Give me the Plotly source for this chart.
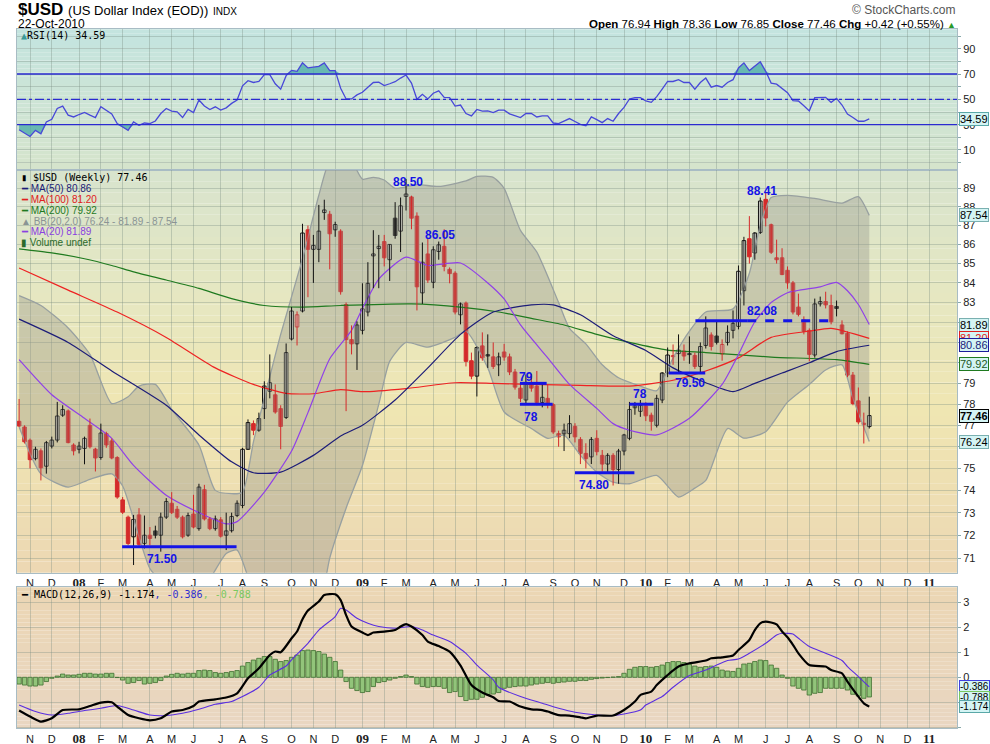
import numpy as np
import pandas as pd
import plotly.graph_objects as go

W, H = 990, 744

# weekly bars, stamped with the Monday of each week (last bar = week ending 22-Oct-2010)
first_week = "2007-10-22"

opens = [77.19, 76.92, 76.30, 75.45, 75.81, 75.10, 76.03, 76.31, 77.48, 77.68,
         76.08, 75.88, 75.92, 77.00, 75.89, 75.50, 76.61, 76.27, 75.50, 73.57,
         72.80, 71.93, 72.90, 71.64, 72.00, 72.19, 72.00, 72.80, 73.42, 73.15,
         72.80, 72.00, 72.94, 72.29, 74.03, 72.72, 72.29, 72.68, 72.00, 72.20,
         72.87, 73.32, 75.88, 77.08, 76.77, 77.79, 78.62, 78.45, 77.79, 77.37,
         81.17, 81.77, 82.57, 86.77, 85.74, 85.74, 87.69, 87.60, 86.77, 86.70,
         82.90, 81.14, 80.93, 81.60, 82.52, 85.40, 85.78, 86.15, 85.20, 87.39,
         86.70, 88.56, 88.53, 87.50, 83.49, 85.50, 84.03, 85.63, 85.90, 84.70,
         84.50, 82.38, 82.97, 80.10, 79.35, 80.83, 80.40, 80.29, 79.90, 80.53,
         80.29, 79.55, 78.77, 78.20, 79.03, 78.87, 78.08, 78.28, 77.98, 76.61,
         76.60, 76.61, 76.95, 76.34, 75.69, 75.53, 76.39, 75.60, 75.20, 75.60,
         74.95, 75.80, 76.39, 77.83, 77.66, 77.92, 77.48, 77.00, 78.20, 79.50,
         80.30, 80.45, 80.57, 80.45, 80.36, 79.82, 80.85, 81.37, 81.32, 80.43,
         81.00, 81.60, 81.80, 83.60, 86.30, 85.55, 86.63, 88.40, 87.04, 85.30,
         85.30, 84.65, 84.00, 82.77, 82.12, 81.60, 80.38, 82.93, 83.05, 82.85,
         82.80, 81.87, 81.45, 79.40, 78.16, 77.10, 76.94]
highs = [78.25, 77.00, 76.38, 76.00, 75.92, 76.27, 76.47, 78.11, 77.95, 77.75,
         76.16, 76.23, 76.47, 77.32, 75.95, 77.08, 76.70, 76.38, 75.56, 73.70,
         72.87, 72.90, 73.20, 72.87, 72.36, 72.42, 73.00, 73.65, 73.92, 73.30,
         72.87, 73.00, 73.80, 74.30, 74.25, 72.80, 72.87, 72.80, 73.00, 73.00,
         73.55, 75.95, 77.28, 77.23, 77.60, 79.10, 80.41, 78.95, 77.95, 80.95,
         82.77, 82.55, 87.09, 87.00, 86.50, 88.10, 88.38, 87.78, 87.20, 86.80,
         83.00, 81.85, 82.05, 83.98, 85.07, 86.75, 86.50, 86.50, 86.00, 88.25,
         88.50, 89.50, 88.60, 87.70, 86.10, 86.30, 85.90, 86.15, 86.80, 84.80,
         84.60, 83.00, 83.05, 80.50, 80.80, 81.50, 81.40, 81.00, 80.50, 80.93,
         80.45, 79.70, 78.95, 79.43, 79.45, 79.60, 78.95, 78.95, 78.05, 76.75,
         77.08, 77.48, 77.10, 76.45, 76.16, 76.45, 76.77, 75.85, 75.70, 75.70,
         75.90, 76.60, 78.11, 78.11, 78.20, 78.10, 77.60, 78.45, 79.55, 80.75,
         80.90, 81.40, 80.90, 81.30, 80.50, 81.00, 82.30, 81.50, 82.05, 81.15,
         81.85, 82.60, 84.90, 86.40, 87.50, 86.65, 88.50, 88.80, 87.10, 86.25,
         85.80, 84.85, 84.10, 83.45, 82.30, 81.70, 83.20, 83.30, 83.55, 83.40,
         83.10, 82.10, 81.55, 79.55, 78.80, 77.60, 78.36]
lows = [76.92, 76.15, 75.00, 75.37, 74.45, 74.76, 75.92, 76.20, 77.40, 76.16,
        75.60, 75.69, 75.19, 75.92, 74.86, 75.40, 75.95, 75.42, 73.62, 72.94,
        71.56, 70.70, 71.50, 71.42, 71.56, 71.86, 71.28, 72.72, 72.94, 72.72,
        71.86, 71.93, 72.30, 72.20, 72.65, 72.22, 72.20, 71.90, 71.35, 72.12,
        72.80, 73.20, 75.85, 76.54, 76.70, 77.30, 78.28, 77.55, 75.88, 77.30,
        81.10, 80.85, 82.50, 83.27, 84.00, 85.07, 87.30, 84.70, 86.40, 83.40,
        77.67, 80.41, 79.65, 81.40, 82.30, 83.73, 83.73, 84.85, 84.10, 86.30,
        85.60, 87.80, 86.80, 82.60, 82.93, 84.00, 83.73, 85.20, 84.60, 83.98,
        82.40, 81.90, 79.82, 79.20, 78.37, 80.10, 79.75, 79.70, 79.35, 80.10,
        79.40, 78.70, 78.10, 78.05, 78.60, 77.95, 77.85, 77.80, 76.60, 76.00,
        75.80, 76.40, 76.20, 75.20, 75.00, 75.20, 75.60, 74.86, 74.75, 74.22,
        74.30, 75.60, 76.30, 77.50, 77.40, 77.20, 76.75, 76.90, 78.05, 79.30,
        79.90, 79.55, 80.10, 79.95, 79.70, 79.50, 80.70, 80.60, 80.90, 80.10,
        80.85, 81.20, 81.65, 82.85, 85.00, 85.20, 86.55, 86.95, 85.50, 85.00,
        84.40, 83.70, 82.40, 82.30, 81.40, 80.07, 80.25, 82.80, 82.70, 81.90,
        82.30, 81.40, 79.30, 77.95, 77.05, 76.15, 76.85]
closes = [76.97, 76.23, 75.40, 75.88, 75.03, 76.19, 76.31, 77.44, 77.75, 76.19,
          75.81, 76.03, 76.39, 76.00, 75.48, 76.64, 76.08, 75.48, 73.70, 73.02,
          71.64, 72.70, 71.60, 72.00, 71.86, 72.00, 72.80, 73.50, 73.00, 72.80,
          71.93, 72.87, 72.36, 74.15, 72.72, 72.29, 72.72, 71.96, 72.19, 72.83,
          73.42, 75.88, 77.13, 76.77, 77.32, 78.87, 79.03, 77.63, 76.95, 80.50,
          82.57, 82.38, 86.60, 85.74, 85.95, 86.70, 87.83, 86.56, 87.05, 83.55,
          81.14, 80.93, 81.87, 82.68, 83.98, 85.50, 85.90, 85.30, 86.00, 86.47,
          88.05, 88.69, 87.39, 83.80, 85.07, 84.15, 85.72, 85.98, 84.85, 84.48,
          82.52, 82.93, 80.07, 79.35, 80.75, 80.24, 80.33, 79.82, 80.29, 80.28,
          79.55, 78.82, 78.28, 78.95, 78.77, 78.08, 78.33, 77.98, 76.69, 76.46,
          76.77, 77.08, 76.46, 75.69, 75.45, 76.34, 75.77, 75.20, 75.60, 74.95,
          75.80, 76.55, 77.75, 77.92, 77.95, 77.45, 77.19, 78.28, 79.50, 80.38,
          80.35, 80.62, 80.33, 80.40, 79.82, 80.80, 81.72, 80.80, 81.00, 80.90,
          81.50, 81.95, 84.60, 86.20, 85.35, 86.60, 88.31, 87.40, 85.59, 85.20,
          84.43, 84.00, 82.52, 82.40, 81.55, 80.41, 82.93, 83.05, 82.88, 82.03,
          82.70, 81.43, 79.40, 78.03, 77.16, 77.04, 77.46]

rsi14 = [26.0, 23.5, 20.7, 25.5, 22.8, 32.1, 34.3, 42.8, 44.7, 37.5,
         36.1, 38.0, 39.6, 37.5, 35.6, 44.1, 41.5, 38.5, 30.8, 28.0,
         25.5, 32.1, 29.5, 31.3, 30.8, 32.9, 38.8, 42.8, 40.7, 40.1,
         35.6, 42.0, 39.6, 49.5, 44.7, 42.0, 44.1, 41.5, 43.3, 46.8,
         49.5, 60.7, 64.7, 63.3, 64.1, 69.5, 69.5, 62.3, 58.0, 68.7,
         72.9, 72.1, 78.8, 74.8, 75.3, 76.1, 78.8, 72.7, 72.7, 58.8,
         50.3, 50.3, 53.5, 55.6, 59.6, 63.3, 63.6, 60.9, 62.3, 63.9,
         66.8, 69.2, 62.8, 50.0, 54.0, 50.3, 54.8, 56.7, 51.6, 51.3,
         44.7, 45.5, 38.8, 36.9, 42.0, 40.7, 40.9, 39.6, 41.5, 41.5,
         38.5, 36.9, 35.6, 38.8, 38.8, 36.1, 36.9, 36.9, 31.3, 30.8,
         33.0, 34.8, 32.5, 30.3, 29.2, 36.1, 34.0, 31.6, 34.8, 32.7,
         38.8, 43.6, 50.3, 51.3, 51.3, 48.7, 47.6, 52.1, 58.0, 64.1,
         64.1, 65.5, 63.3, 63.3, 58.0, 63.3, 66.8, 59.6, 60.9, 59.6,
         63.3, 65.5, 74.8, 78.8, 72.7, 76.1, 79.6, 72.1, 62.8, 62.0,
         58.3, 55.3, 48.9, 48.7, 44.9, 40.9, 51.3, 51.6, 51.6, 47.6,
         50.8, 45.5, 38.3, 35.6, 32.7, 32.7, 34.59]

macd_hist = [-0.27, -0.31, -0.35, -0.35, -0.31, -0.17, -0.04, 0.05, 0.13, 0.09,
             0.09, 0.12, 0.16, 0.16, 0.13, 0.13, 0.16, 0.16, -0.01, -0.11,
             -0.24, -0.21, -0.13, -0.27, -0.24, -0.21, -0.13, 0.05, 0.12, 0.16,
             0.13, 0.16, 0.16, 0.27, 0.29, 0.27, 0.19, 0.16, 0.19, 0.23,
             0.27, 0.45, 0.59, 0.69, 0.76, 0.83, 0.83, 0.72, 0.63, 0.67,
             0.80, 0.89, 1.07, 1.09, 1.07, 1.03, 0.93, 0.80, 0.63, 0.29,
             -0.17, -0.44, -0.53, -0.61, -0.57, -0.37, -0.21, -0.17, -0.11, -0.04,
             0.03, 0.09, 0.03, -0.27, -0.37, -0.40, -0.37, -0.37, -0.44, -0.61,
             -0.57, -0.77, -0.93, -0.88, -0.88, -0.80, -0.71, -0.67, -0.61, -0.44,
             -0.40, -0.37, -0.35, -0.35, -0.31, -0.27, -0.24, -0.21, -0.24, -0.21,
             -0.19, -0.16, -0.16, -0.13, -0.13, -0.08, -0.05, -0.03, -0.01, 0.01,
             0.03, 0.16, 0.32, 0.40, 0.43, 0.43, 0.40, 0.43, 0.49, 0.59,
             0.63, 0.63, 0.59, 0.52, 0.45, 0.40, 0.43, 0.45, 0.40, 0.29,
             0.25, 0.23, 0.36, 0.53, 0.56, 0.63, 0.69, 0.67, 0.49, 0.36,
             0.09, -0.04, -0.35, -0.44, -0.51, -0.71, -0.64, -0.61, -0.44, -0.44,
             -0.44, -0.44, -0.51, -0.68, -0.75, -0.84, -0.788]

# overlay lines at selected bars (1 = first bar)
ma20_wk = [1, 7, 13, 18, 22, 28, 34, 39, 41, 46, 51, 54, 58, 62, 64, 67, 72, 76, 82, 87,
           90, 93, 98, 102, 107, 110, 113, 118, 124, 130, 133, 136, 139, 142, 148, 151,
           153, 155, 157]
ma20 = [80.15, 78.45, 77.33, 76.39, 75.14, 73.78, 73.0, 72.5, 72.6, 73.92, 75.8, 77.6,
        80.2, 81.6, 82.7, 84.2, 85.33, 84.9, 85.03, 84.0, 83.18, 81.87, 80.24, 78.95,
        77.8, 77.08, 76.77, 76.55, 77.33, 78.95, 80.41, 82.03, 83.0, 83.5, 83.8, 84.03,
        83.6, 82.9, 81.89]
ma50_wk = [1, 10, 18, 28, 34, 40, 44, 49, 55, 60, 64, 70, 76, 82, 88, 95, 99, 104, 110,
           116, 121, 127, 132, 136, 141, 146, 151, 157]
ma50 = [82.16, 81.0, 79.6, 77.95, 76.55, 75.3, 74.8, 74.83, 75.6, 76.5, 77.0, 78.2, 79.75,
        81.4, 82.52, 82.88, 82.88, 82.38, 81.33, 80.6, 79.75, 79.03, 78.6, 79.0, 79.5,
        80.0, 80.55, 80.86]
ma100_wk = [1, 10, 19, 28, 37, 44, 50, 55, 60, 64, 72, 81, 88, 95, 104, 113, 121, 127,
            133, 139, 146, 150, 157]
ma100 = [84.77, 83.63, 82.52, 81.25, 79.75, 78.95, 78.52, 78.5, 78.7, 78.6, 78.75, 79.03,
         79.0, 78.95, 78.9, 78.87, 79.15, 79.6, 80.24, 81.25, 81.56, 81.7, 81.2]
ma200_wk = [1, 7, 13, 18, 22, 28, 34, 40, 46, 53, 60, 73, 82, 89, 95, 101, 107, 113, 120,
            127, 139, 151, 157]
ma200 = [85.77, 85.56, 85.25, 84.9, 84.57, 84.15, 83.72, 83.2, 82.85, 82.77, 82.85, 82.93,
         82.77, 82.52, 82.2, 81.87, 81.4, 81.0, 80.62, 80.5, 80.28, 80.15, 79.92]
bb_up_wk = [1, 5, 10, 14, 18, 21, 23, 26, 29, 34, 37, 40, 42, 44, 46, 49, 53, 56, 58, 61,
            64, 66, 68, 70, 74, 78, 83, 85, 88, 90, 93, 96, 100, 102, 105, 108, 111, 115,
            118, 121, 124, 127, 132, 135, 137, 139, 142, 147, 152, 155, 157]
bb_up = [83.35, 82.85, 81.72, 80.41, 78.03, 78.36, 78.87, 78.95, 77.75, 76.08, 74.0,
         73.85, 73.92, 76.23, 78.28, 81.4, 85.25, 88.62, 90.5, 91.0, 89.5, 89.6, 89.45,
         89.0, 89.2, 89.1, 89.4, 89.65, 89.6, 89.0, 86.74, 85.6, 83.0, 81.7, 80.93, 79.9,
         79.27, 78.87, 78.65, 80.24, 81.56, 82.52, 82.68, 84.5, 87.0, 88.5, 88.62, 88.45,
         88.2, 88.55, 87.54]
bb_lo_wk = [1, 5, 10, 14, 18, 20, 22, 25, 28, 31, 35, 39, 41, 43, 46, 50, 54, 57, 58, 61,
            64, 67, 69, 72, 76, 81, 83, 87, 90, 95, 98, 101, 104, 107, 110, 113, 118, 122,
            125, 127, 131, 134, 138, 142, 146, 149, 152, 154, 157]
bb_lo = [76.92, 74.75, 74.15, 74.5, 74.75, 74.2, 72.72, 70.55, 69.8, 69.5, 69.8, 71.2,
         71.35, 70.2, 68.5, 67.5, 67.5, 69.8, 71.0, 73.2, 75.13, 78.0, 80.07, 81.0, 80.77,
         81.25, 81.56, 79.75, 77.63, 76.85, 76.39, 76.54, 75.6, 74.83, 74.37, 74.3, 74.68,
         73.7, 74.1, 74.45, 76.85, 76.4, 76.7, 78.1, 78.95, 79.65, 79.9, 78.28, 76.24]

macd_wk = [1, 3, 5, 7, 9, 12, 14, 16, 18, 19, 21, 23, 25, 27, 29, 31, 33, 34, 37, 39, 41,
           43, 45, 47, 48, 49, 51, 52, 53, 54, 56, 57, 59, 60, 61, 62, 64, 65, 66, 68, 70,
           71, 72, 73, 75, 76, 78, 80, 82, 84, 86, 88, 89, 91, 93, 95, 97, 98, 100, 102,
           104, 105, 107, 110, 112, 114, 115, 117, 118, 120, 122, 124, 127, 128, 130, 132,
           133, 135, 136, 137, 138, 140, 141, 142, 143, 144, 146, 149, 150, 152, 153, 155,
           156, 157]
macd = [-1.33, -1.57, -1.77, -1.64, -1.31, -1.28, -1.15, -1.01, -1.0, -1.17, -1.51, -1.64,
        -1.72, -1.64, -1.37, -1.31, -1.15, -0.97, -0.88, -0.81, -0.64, -0.04, 0.36, 0.89,
        1.03, 1.0, 1.56, 1.83, 2.32, 2.67, 3.03, 3.29, 3.32, 3.09, 2.49, 2.03, 1.79, 1.69,
        1.79, 1.83, 1.89, 2.03, 2.13, 2.03, 1.69, 1.43, 1.25, 1.03, 0.47, -0.31, -0.61,
        -0.80, -0.95, -0.97, -1.17, -1.28, -1.31, -1.37, -1.51, -1.53, -1.6, -1.64, -1.53,
        -1.53, -1.31, -0.97, -0.71, -0.57, -0.31, 0.09, 0.43, 0.56, 0.67, 0.76, 0.80, 0.87,
        1.09, 1.49, 1.89, 2.16, 2.23, 2.12, 1.83, 1.6, 1.3, 0.96, 0.49, 0.43, 0.29, 0.16,
        -0.17, -0.77, -1.04, -1.174]
signal_wk = [1, 4, 7, 10, 13, 16, 19, 22, 25, 28, 31, 34, 37, 40, 42, 45, 47, 50, 51, 54,
             56, 59, 60, 61, 63, 65, 67, 70, 73, 75, 77, 80, 83, 85, 88, 89, 93, 97, 100,
             103, 107, 110, 112, 115, 116, 119, 121, 124, 127, 129, 131, 133, 135, 138, 140,
             141, 143, 144, 146, 149, 152, 153, 155, 157]
signal = [-1.11, -1.37, -1.51, -1.44, -1.33, -1.24, -1.13, -1.31, -1.51, -1.53, -1.44,
          -1.28, -1.08, -0.97, -0.77, -0.40, 0.09, 0.45, 0.7, 1.36, 1.89, 2.43, 2.76, 2.69,
          2.36, 2.16, 2.03, 1.96, 2.03, 1.89, 1.69, 1.43, 0.96, 0.49, -0.1, -0.40, -0.77,
          -1.04, -1.24, -1.4, -1.51, -1.53, -1.47, -1.31, -1.11, -0.77, -0.40, 0.07, 0.29,
          0.49, 0.67, 0.73, 0.96, 1.36, 1.69, 1.76, 1.73, 1.56, 1.23, 0.96, 0.67, 0.43, 0.03,
          -0.386]

# hand-drawn support / resistance lines: (from bar, to bar, level, dashed)
levels = [(19.9, 40.9, 71.50, False), (92.9, 97.8, 79.0, False), (92.9, 98.9, 78.0, False),
          (103.0, 113.9, 74.80, False), (113.0, 117.4, 78.0, False),
          (120.2, 126.9, 79.50, False), (125.1, 134.6, 82.08, False),
          (134.6, 150.8, 82.08, True)]
# chart notes: (text, bar, price)
notes = [("71.50", 27.2, 70.97), ("79", 94.0, 79.32), ("78", 95.0, 77.40),
         ("74.80", 106.4, 74.23), ("78", 115.0, 78.50), ("79.50", 124.1, 79.00),
         ("82.08", 137.3, 82.55), ("88.50", 72.3, 89.36), ("86.05", 78.3, 86.50),
         ("88.41", 137.3, 88.87)]

# price axis labels that sit under the value tags on the right
hidden_price_ticks = [76, 80, 81, 82]

weeks = pd.date_range(first_week, periods=len(closes), freq="W-MON")


def wk(idx):
    # bar numbers (1 = first bar, fractions allowed) -> dates
    return [weeks[0] + pd.Timedelta(days=7 * (float(i) - 1)) for i in idx]


# pixel layout of the three panels
X0, X1 = 17, 957
RSI_T, RSI_B = 29.3, 170
PX_T, PX_B = 170, 572.7
MD_T, MD_B = 587.3, 728.3


def py(v):
    return 1 - v / H


def px(v):
    return v / W


x_range = [weeks[0] - pd.Timedelta(days=2.7), weeks[-1] + pd.Timedelta(days=112.7)]

# month ticks at the first bar of each month
tick_x, tick_txt = [], []
for m in pd.date_range("2007-11-01", "2011-01-01", freq="MS"):
    d = m + pd.Timedelta(days=(7 - m.weekday()) % 7)
    tick_x.append(d)
    if m.month == 1:
        tick_txt.append('<span style="font-family:Liberation Serif;font-size:13px">'
                        '<b>%02d</b></span>' % (m.year % 100))
    else:
        tick_txt.append("JFMAMJJASOND"[m.month - 1])

GRID = "rgba(120,140,130,0.35)"
BORDER = "#a8bcc4"
RED = "#d42a2a"

fig = go.Figure()

# ---- RSI panel
fig.add_trace(go.Scatter(x=weeks, y=[70] * len(weeks), mode="lines", line=dict(width=0),
                         xaxis="x", yaxis="y", hoverinfo="skip", showlegend=False))
fig.add_trace(go.Scatter(x=weeks, y=np.maximum(rsi14, 70), mode="lines", line=dict(width=0),
                         fill="tonexty", fillcolor="rgba(70,170,165,0.75)",
                         xaxis="x", yaxis="y", hoverinfo="skip", showlegend=False))
fig.add_trace(go.Scatter(x=weeks, y=[30] * len(weeks), mode="lines", line=dict(width=0),
                         xaxis="x", yaxis="y", hoverinfo="skip", showlegend=False))
fig.add_trace(go.Scatter(x=weeks, y=np.minimum(rsi14, 30), mode="lines", line=dict(width=0),
                         fill="tonexty", fillcolor="rgba(70,170,165,0.75)",
                         xaxis="x", yaxis="y", hoverinfo="skip", showlegend=False))
fig.add_trace(go.Scatter(x=weeks, y=rsi14, mode="lines", line=dict(color="#4848d8", width=1.3),
                         xaxis="x", yaxis="y", hoverinfo="skip", showlegend=False))

# ---- price panel
fig.add_trace(go.Scatter(x=wk(bb_up_wk), y=bb_up, mode="lines",
                         line=dict(color="#98a0a0", width=1.3, shape="spline", smoothing=0.6),
                         xaxis="x2", yaxis="y2", hoverinfo="skip", showlegend=False))
fig.add_trace(go.Scatter(x=wk(bb_lo_wk), y=bb_lo, mode="lines",
                         line=dict(color="#98a0a0", width=1.3, shape="spline", smoothing=0.6),
                         fill="tonexty", fillcolor="rgba(150,150,140,0.38)",
                         xaxis="x2", yaxis="y2", hoverinfo="skip", showlegend=False))
for wks, vals, col in [(ma200_wk, ma200, "#1f7a1f"), (ma100_wk, ma100, "#ee2222"),
                       (ma50_wk, ma50, "#1c1c78"), (ma20_wk, ma20, "#9040e8")]:
    fig.add_trace(go.Scatter(x=wk(wks), y=vals, mode="lines",
                             line=dict(color=col, width=1.2, shape="spline", smoothing=0.6),
                             xaxis="x2", yaxis="y2", hoverinfo="skip", showlegend=False))

# candles: red when the close is below the previous close, filled when close < open
prev = [opens[0]] + closes[:-1]
n = len(closes)
is_red = [closes[i] < prev[i] for i in range(n)]
for red_group, col in [(False, "#111111"), (True, RED)]:
    wx, wy = [], []
    for i in range(n):
        if is_red[i] == red_group:
            wx += [weeks[i], weeks[i], None]
            wy += [lows[i], highs[i], None]
    fig.add_trace(go.Scatter(x=wx, y=wy, mode="lines", line=dict(color=col, width=1),
                             xaxis="x2", yaxis="y2", hoverinfo="skip", showlegend=False))
body_base = [min(opens[i], closes[i]) for i in range(n)]
body_h = [max(abs(closes[i] - opens[i]), 0.035) for i in range(n)]
edge = [RED if is_red[i] else "#111111" for i in range(n)]
fill = [(RED if is_red[i] else "#111111") if closes[i] < opens[i] else "rgba(250,250,245,0.75)"
        for i in range(n)]
fig.add_trace(go.Bar(x=weeks, y=body_h, base=body_base, width=7 * 86400000 * 0.66,
                     marker=dict(color=fill, line=dict(color=edge, width=1)),
                     xaxis="x2", yaxis="y2", hoverinfo="skip", showlegend=False))

for a, b, lev, dashed in levels:
    fig.add_trace(go.Scatter(x=wk([a, b]), y=[lev, lev], mode="lines",
                             line=dict(color="#1414e6", width=3, dash="dash" if dashed else "solid"),
                             xaxis="x2", yaxis="y2", hoverinfo="skip", showlegend=False))

# ---- MACD panel
fig.add_trace(go.Bar(x=weeks, y=macd_hist, width=7 * 86400000 * 0.8,
                     marker=dict(color="#92c47a", line=dict(color="#3f6e30", width=0.8)),
                     xaxis="x3", yaxis="y3", hoverinfo="skip", showlegend=False))
fig.add_trace(go.Scatter(x=wk(signal_wk), y=signal, mode="lines",
                         line=dict(color="#5a2ee0", width=1.1, shape="spline", smoothing=0.6),
                         xaxis="x3", yaxis="y3", hoverinfo="skip", showlegend=False))
fig.add_trace(go.Scatter(x=wk(macd_wk), y=macd, mode="lines",
                         line=dict(color="#000000", width=2.2, shape="spline", smoothing=0.6),
                         xaxis="x3", yaxis="y3", hoverinfo="skip", showlegend=False))

# ---- background gradients
shapes = []


def gradient(top, bot, stops, steps=36):
    for k in range(steps):
        f0, f1 = k / steps, (k + 1) / steps
        fm = (f0 + f1) / 2
        for (a, ca), (b, cb) in zip(stops[:-1], stops[1:]):
            if a <= fm <= b:
                t = (fm - a) / (b - a)
                c = [int(ca[j] + (cb[j] - ca[j]) * t) for j in range(3)]
                break
        shapes.append(dict(type="rect", xref="paper", yref="paper", layer="below",
                           x0=px(X0), x1=px(X1), y0=py(top + (bot - top) * f1),
                           y1=py(top + (bot - top) * f0), line=dict(width=0),
                           fillcolor="rgb(%d,%d,%d)" % tuple(c)))


gradient(RSI_T, RSI_B, [(0, (196, 228, 224)), (1, (214, 228, 204))])
gradient(PX_T, PX_B, [(0, (216, 228, 206)), (0.35, (232, 232, 192)), (0.6, (240, 230, 178)),
                      (1, (237, 216, 180))])
gradient(MD_T, MD_B, [(0, (236, 214, 180)), (1, (233, 214, 194))])

for lv, dash in [(70, "solid"), (30, "solid"), (50, "dashdot")]:
    shapes.append(dict(type="line", xref="paper", yref="y", x0=px(X0), x1=px(X1), y0=lv, y1=lv,
                       line=dict(color="#2a2ad0", width=1.3, dash=dash)))

xcommon = dict(type="date", range=x_range, tickvals=tick_x, ticktext=tick_txt,
               showgrid=True, gridcolor=GRID, gridwidth=1, showline=True, mirror=True,
               linecolor=BORDER, ticks="", zeroline=False, automargin=False,
               tickfont=dict(family="Liberation Sans", size=11, color="#222"),
               domain=[px(X0), px(X1)])
ycommon = dict(side="right", showgrid=True, gridcolor=GRID, showline=True, mirror=True,
               linecolor=BORDER, ticks="outside", ticklen=3, tickcolor="#8aa",
               zeroline=False, automargin=False,
               tickfont=dict(family="Liberation Sans", size=11, color="#222"))

price_ticks = list(range(71, 90))
fig.update_layout(
    width=W, height=H, margin=dict(l=0, r=0, t=0, b=0, autoexpand=False),
    paper_bgcolor="white", plot_bgcolor="rgba(0,0,0,0)",
    showlegend=False, barmode="overlay", shapes=shapes,
    xaxis=dict(xcommon, anchor="y", showticklabels=False),
    xaxis2=dict(xcommon, anchor="y2"),
    xaxis3=dict(xcommon, anchor="y3"),
    yaxis=dict(ycommon, anchor="x", domain=[py(RSI_B), py(RSI_T)], range=[-5.8, 105.3],
               tickvals=list(range(0, 101, 10)),
               ticktext=["", "10", "", "30", "", "50", "", "70", "", "90", ""]),
    yaxis2=dict(ycommon, anchor="x2", type="log", domain=[py(PX_B), py(PX_T)],
                range=[np.log10(70.37), np.log10(90.0)], tickvals=price_ticks,
                ticktext=["" if v in hidden_price_ticks else str(v) for v in price_ticks]),
    yaxis3=dict(ycommon, anchor="x3", domain=[py(MD_B), py(MD_T)], range=[-2.04, 3.6],
                tickvals=[-2, -1, 0, 1, 2, 3], ticktext=["", "", "0", "1", "2", "3"]),
)

ann = []
SANS = "Liberation Sans"
MONO = "DejaVu Sans Mono"

# header
ann.append(dict(xref="paper", yref="paper", x=px(16), y=py(10), xanchor="left", yanchor="middle",
                showarrow=False, font=dict(family=SANS, size=17, color="#000"),
                text="<b>$USD</b> <span style='font-size:13px'>(US Dollar Index (EOD))</span>"
                     " <span style='font-size:10px'>INDX</span>"))
ann.append(dict(xref="paper", yref="paper", x=px(16), y=py(23.5), xanchor="left",
                yanchor="middle", showarrow=False, text="22-Oct-2010",
                font=dict(family=SANS, size=12, color="#000")))
ann.append(dict(xref="paper", yref="paper", x=px(958), y=py(10), xanchor="right",
                yanchor="middle", showarrow=False, text="© StockCharts.com",
                font=dict(family=SANS, size=12, color="#555")))
ann.append(dict(xref="paper", yref="paper", x=px(958), y=py(23.5), xanchor="right",
                yanchor="middle", showarrow=False,
                font=dict(family=SANS, size=11.5, color="#000"),
                text="<b>Open</b> 76.94 <b>High</b> 78.36 <b>Low</b> 76.85 "
                     "<b>Close</b> 77.46 <b>Chg</b> +0.42 (+0.55%) "
                     "<span style='color:#2a9a2a;font-size:9px'>▲</span>"))

# panel legends
ann.append(dict(xref="paper", yref="paper", x=px(19), y=py(35.5), xanchor="left",
                yanchor="middle", showarrow=False, font=dict(family=MONO, size=10, color="#000"),
                text="<span style='color:#3a9a98'>▲</span>RSI(14) 34.59"))
legend_rows = [("▮ $USD (Weekly) 77.46", "#000000", MONO),
               ("━ MA(50) 80.86", "#1c1c78", SANS),
               ("━ MA(100) 81.20", "#e02020", SANS),
               ("━ MA(200) 79.92", "#1f7a1f", SANS),
               ("▲ BB(20,2.0) 76.24 - 81.89 - 87.54", "#8a9494", SANS),
               ("━ MA(20) 81.89", "#8a40e0", SANS),
               ("▮ Volume undef", "#2a6a2a", SANS)]
for k, (txt, col, fam) in enumerate(legend_rows):
    ann.append(dict(xref="paper", yref="paper", x=px(19), y=py(177.7 + 10.85 * k),
                    xanchor="left", yanchor="middle", showarrow=False, text=txt,
                    font=dict(family=fam, size=10, color=col)))
ann.append(dict(xref="paper", yref="paper", x=px(19), y=py(594.3), xanchor="left",
                yanchor="middle", showarrow=False, font=dict(family=MONO, size=10, color="#000"),
                text="━ MACD(12,26,9) -1.174<span style='color:#3030d0'>, -0.386</span>"
                     "<span style='color:#7ac860'>, -0.788</span>"))

# notes on the price panel
for txt, b, p in notes:
    ann.append(dict(xref="x2", yref="y2", x=wk([b])[0], y=np.log10(p), showarrow=False,
                    text="<b>%s</b>" % txt, xanchor="center", yanchor="middle",
                    font=dict(family=SANS, size=12, color="#1414e6")))


# value tags on the right axis
def tag(yref, yv, txt, border, color="#000", bold=False, size=11):
    ann.append(dict(xref="paper", yref=yref, x=px(X1 + 2), y=yv, xanchor="left",
                    yanchor="middle", showarrow=False,
                    text="<b>%s</b>" % txt if bold else txt,
                    font=dict(family=SANS, size=size, color=color),
                    bgcolor="#d4f4f4", bordercolor=border, borderwidth=1, borderpad=0))


tag("y", 34.59, "34.59", "#5aa8a8")
tag("y2", np.log10(87.54), "87.54", "#7ab0b0")
tag("y2", np.log10(81.89), "81.89", "#7ab0b0")
tag("y2", np.log10(81.20), "81.20", "#e02020", "#e02020")
tag("y2", np.log10(80.86), "80.86", "#1c1c9c", "#1c1c78")
tag("y2", np.log10(79.92), "79.92", "#1f7a1f", "#1f5a1f")
tag("y2", np.log10(77.46), "77.46", "#000000", "#000", bold=True)
tag("y2", np.log10(76.24), "76.24", "#7ab0b0")
tag("y3", -0.386, "-0.386", "#4040e0", size=10)
tag("y3", -0.788, "-0.788", "#7ac860", size=10)
tag("y3", -1.174, "-1.174", "#5aa8a8", size=10)

fig.update_layout(annotations=ann)
# the page body has a default 8px margin; drop it so the figure sits at the window corner
fig.write_html("out.html", config={"displayModeBar": False},
               post_script="document.body.style.margin='0';")
